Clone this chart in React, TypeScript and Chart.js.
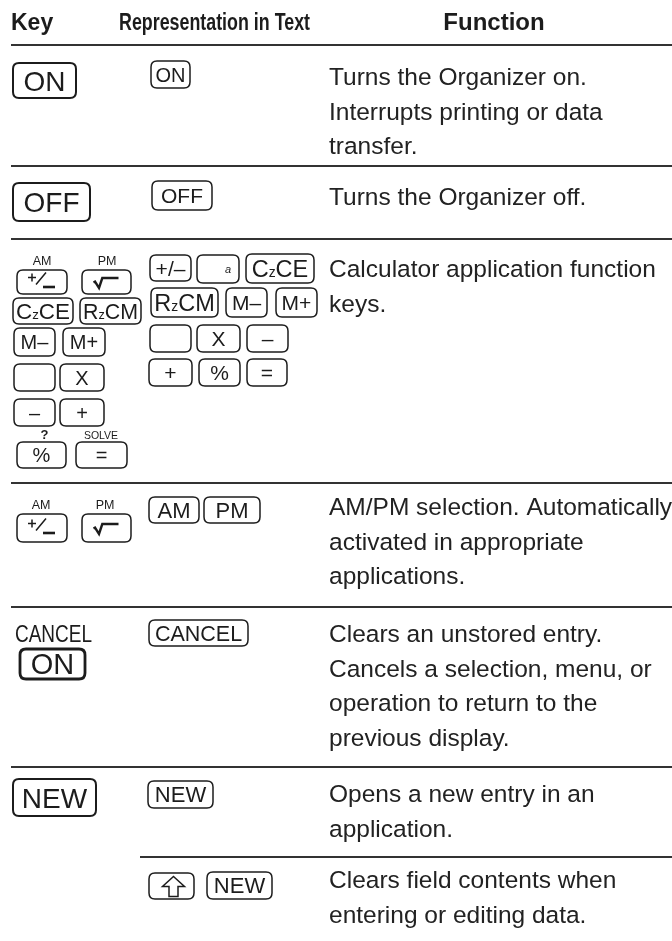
import React, { useEffect, useRef } from "react";
import { Chart, registerables } from "chart.js";

Chart.register(...registerables);

// ---------- content ----------
const HEADERS = ["Key", "Representation in Text", "Function"];

const FUNCTION_LINES: string[][] = [
  ["Turns the Organizer on.", "Interrupts printing or data", "transfer."],
  ["Turns the Organizer off."],
  ["Calculator application function", "keys."],
  ["AM/PM selection. Automatically", "activated in appropriate", "applications."],
  ["Clears an unstored entry.", "Cancels a selection, menu, or", "operation to return to the", "previous display."],
  ["Opens a new entry in an", "application."],
  ["Clears field contents when", "entering or editing data."],
];

// "±" = fraction-style +/− key glyph, "√" = square-root key glyph, "⇧" = shift arrow, {x} = small letter
const KEY_LABELS: string[][] = [
  ["ON"],
  ["OFF"],
  ["±", "√", "C{z}CE", "R{z}CM", "M–", "M+", "", "X", "–", "+", "%", "="],
  ["±", "√"],
  ["ON"],
  ["NEW"],
  [],
];

const KEY_CAPTIONS: string[][] = [[], [], ["AM", "PM", "?", "SOLVE"], ["AM", "PM"], ["CANCEL"], [], []];

const REP_LABELS: string[][] = [
  ["ON"],
  ["OFF"],
  ["+/–", "{a}", "C{z}CE", "R{z}CM", "M–", "M+", "", "X", "–", "+", "%", "="],
  ["AM", "PM"],
  ["CANCEL"],
  ["NEW"],
  ["⇧", "NEW"],
];

// ---------- layout (pixel coordinates of the page) ----------
const PAGE_W = 672;
const PAGE_H = 941;
const RULES_FULL = [45, 166, 239, 483, 607, 767];
const RULE_PARTIAL = 857;
const RULE_LEFT = 11;
const RULE_PARTIAL_LEFT = 140;
const FUNC_X = 329;
const FUNC_BASELINE = [85, 205, 277, 515, 642, 802, 888];
const LINE_GAP = 34.6;

const KEY_BOXES: number[][][] = [
  [[13, 63, 76, 98]],
  [[13, 183, 90, 221]],
  [
    [17, 270, 67, 294], [82, 270, 131, 294],
    [13, 298, 73, 324], [80, 298, 141, 324],
    [14, 328, 55, 356], [63, 328, 105, 356],
    [14, 364, 55, 391], [60, 364, 104, 391],
    [14, 399, 55, 426], [60, 399, 104, 426],
    [17, 442, 66, 468], [76, 442, 127, 468],
  ],
  [[17, 514, 67, 542], [82, 514, 131, 542]],
  [[20, 649, 85, 679]],
  [[13, 779, 96, 816]],
  [],
];
const KEY_FONT = [28, 28, 20, 20, 29, 28, 0];
const KEY_LW = [2, 2, 1.5, 1.5, 2.8, 2, 0];

// caption: [x, baseline, size, align(0 centre / 1 left), bold, maxWidth]
const CAPTION_POS: number[][][] = [
  [], [],
  [[42, 265, 12.5, 0, 0, 0], [107, 265, 12.5, 0, 0, 0], [44.5, 439, 13, 0, 1, 0], [101, 439, 10.5, 0, 0, 0]],
  [[41, 509, 12.5, 0, 0, 0], [105, 509, 12.5, 0, 0, 0]],
  [[15, 642, 23.5, 1, 0, 77]],
  [], [],
];

const REP_BOXES: number[][][] = [
  [[151, 61, 190, 88]],
  [[152, 181, 212, 210]],
  [
    [150, 255, 191, 281], [197, 255, 239, 283], [246, 254, 314, 283],
    [151, 288, 218, 317], [226, 288, 267, 317], [276, 288, 317, 317],
    [150, 325, 191, 352], [197, 325, 240, 352], [247, 325, 288, 352],
    [149, 359, 192, 386], [199, 359, 240, 386], [247, 359, 287, 386],
  ],
  [[149, 497, 199, 523], [204, 497, 260, 523]],
  [[149, 620, 248, 646]],
  [[148, 781, 213, 808]],
  [[149, 873, 194, 899], [207, 872, 272, 899]],
];
const REP_FONT = [20, 21, 21, 22, 21.5, 22, 22];
const REP_LW = 1.5;

const FONT = '"Liberation Sans", Arial, Helvetica, sans-serif';
const INK = "#1c1c1c";
const RULE_COLOR = "#333333";

// ---------- drawing helpers ----------
function parseSegments(label: string) {
  const out: { t: string; small: boolean }[] = [];
  const re = /\{([^}]*)\}|([^{]+)/g;
  let m: RegExpExecArray | null;
  while ((m = re.exec(label))) {
    if (m[1] !== undefined) out.push({ t: m[1], small: true });
    else out.push({ t: m[2], small: false });
  }
  return out;
}

function roundRect(ctx: CanvasRenderingContext2D, x0: number, y0: number, x1: number, y1: number, r: number) {
  ctx.beginPath();
  ctx.moveTo(x0 + r, y0);
  ctx.lineTo(x1 - r, y0);
  ctx.quadraticCurveTo(x1, y0, x1, y0 + r);
  ctx.lineTo(x1, y1 - r);
  ctx.quadraticCurveTo(x1, y1, x1 - r, y1);
  ctx.lineTo(x0 + r, y1);
  ctx.quadraticCurveTo(x0, y1, x0, y1 - r);
  ctx.lineTo(x0, y0 + r);
  ctx.quadraticCurveTo(x0, y0, x0 + r, y0);
  ctx.closePath();
}

function drawKey(
  ctx: CanvasRenderingContext2D,
  label: string,
  x0: number, y0: number, x1: number, y1: number,
  size: number, lw: number
) {
  const cx = (x0 + x1) / 2;
  const cy = (y0 + y1) / 2;
  ctx.save();
  ctx.strokeStyle = INK;
  ctx.fillStyle = INK;
  ctx.lineWidth = lw;
  roundRect(ctx, x0, y0, x1, y1, Math.min(6, (y1 - y0) / 4));
  ctx.stroke();

  if (label === "±") {
    ctx.lineWidth = 1.5;
    ctx.lineCap = "butt";
    ctx.beginPath();
    ctx.moveTo(cx - 14, cy - 4.5); ctx.lineTo(cx - 6, cy - 4.5);
    ctx.moveTo(cx - 10, cy - 8.5); ctx.lineTo(cx - 10, cy - 0.5);
    ctx.moveTo(cx - 6, cy + 2.5); ctx.lineTo(cx + 4, cy - 9.5);
    ctx.stroke();
    ctx.lineWidth = 2.6;
    ctx.beginPath();
    ctx.moveTo(cx + 1, cy + 5); ctx.lineTo(cx + 13, cy + 5);
    ctx.stroke();
  } else if (label === "√") {
    ctx.lineWidth = 2.4;
    ctx.lineJoin = "miter";
    ctx.beginPath();
    ctx.moveTo(cx - 13, cy + 0.5);
    ctx.lineTo(cx - 11.5, cy - 0.3);
    ctx.lineTo(cx - 7.5, cy + 6);
    ctx.lineTo(cx - 4.2, cy - 4);
    ctx.lineTo(cx + 12, cy - 4);
    ctx.stroke();
  } else if (label === "⇧") {
    const ax = cx + 2;
    const ay = cy + 0.5;
    ctx.lineWidth = 1.5;
    ctx.beginPath();
    ctx.moveTo(ax, ay - 10);
    ctx.lineTo(ax + 11, ay);
    ctx.lineTo(ax + 4.5, ay);
    ctx.lineTo(ax + 4.5, ay + 10);
    ctx.lineTo(ax - 4.5, ay + 10);
    ctx.lineTo(ax - 4.5, ay);
    ctx.lineTo(ax - 11, ay);
    ctx.closePath();
    ctx.stroke();
  } else if (label === "{a}") {
    ctx.font = `italic 11px ${FONT}`;
    ctx.textAlign = "center";
    ctx.textBaseline = "alphabetic";
    ctx.fillText("a", x1 - 11, cy + 4);
  } else if (label) {
    const segs = parseSegments(label);
    const hasSmall = segs.some((s) => s.small);
    const big = hasSmall ? size * 1.12 : size;
    const small = size * 0.66;
    let total = 0;
    const widths = segs.map((s) => {
      ctx.font = `${s.small ? small : big}px ${FONT}`;
      const w = ctx.measureText(s.t).width;
      total += w;
      return w;
    });
    const maxW = x1 - x0 - 6;
    const sc = total > maxW ? maxW / total : 1;
    const baseline = cy + (0.716 * big) / 2;
    ctx.translate(cx, baseline);
    ctx.scale(sc, 1);
    ctx.textAlign = "left";
    ctx.textBaseline = "alphabetic";
    let x = -total / 2;
    segs.forEach((s, i) => {
      ctx.font = `${s.small ? small : big}px ${FONT}`;
      ctx.fillText(s.t, x, 0);
      x += widths[i];
    });
  }
  ctx.restore();
}

// ---------- component ----------
export default function App() {
  const canvasRef = useRef<HTMLCanvasElement | null>(null);

  useEffect(() => {
    document.body.style.margin = "0";
    document.body.style.background = "#ffffff";
    const canvas = canvasRef.current;
    if (!canvas) return;

    const ruleDatasets = [
      ...RULES_FULL.map((y) => ({
        data: [{ x: RULE_LEFT, y }, { x: PAGE_W, y }],
      })),
      { data: [{ x: RULE_PARTIAL_LEFT, y: RULE_PARTIAL }, { x: PAGE_W, y: RULE_PARTIAL }] },
    ].map((d) => ({
      ...d,
      showLine: true,
      borderColor: RULE_COLOR,
      borderWidth: 2.2,
      pointRadius: 0,
      pointHoverRadius: 0,
      clip: false as any,
    }));

    const tablePlugin = {
      id: "keyTable",
      afterDatasetsDraw(chart: any) {
        const ctx: CanvasRenderingContext2D = chart.ctx;
        const sx = chart.scales.x;
        const sy = chart.scales.y;
        const X = (v: number) => sx.getPixelForValue(v);
        const Y = (v: number) => sy.getPixelForValue(v);

        ctx.save();
        // headers
        ctx.fillStyle = INK;
        ctx.textBaseline = "alphabetic";
        ctx.font = `bold 23px ${FONT}`;
        ctx.textAlign = "left";
        ctx.fillText(HEADERS[0], X(11), Y(29.5));
        ctx.textAlign = "center";
        ctx.fillText(HEADERS[1], X(214.5), Y(29.5), 191);
        ctx.font = `bold 24px ${FONT}`;
        ctx.fillText(HEADERS[2], X(494), Y(29.5));

        // function text
        ctx.font = `24.5px ${FONT}`;
        ctx.textAlign = "left";
        ctx.fillStyle = "#222222";
        FUNCTION_LINES.forEach((lines, r) => {
          lines.forEach((line, i) => {
            ctx.fillText(line, X(FUNC_X), Y(FUNC_BASELINE[r] + i * LINE_GAP));
          });
        });
        ctx.restore();

        // key column
        KEY_LABELS.forEach((labels, r) => {
          labels.forEach((lab, i) => {
            const b = KEY_BOXES[r][i];
            drawKey(ctx, lab, X(b[0]), Y(b[1]), X(b[2]), Y(b[3]), KEY_FONT[r], KEY_LW[r]);
          });
        });

        // captions above keys
        KEY_CAPTIONS.forEach((caps, r) => {
          caps.forEach((c, i) => {
            const p = CAPTION_POS[r][i];
            ctx.save();
            ctx.fillStyle = INK;
            ctx.font = `${p[4] ? "bold " : ""}${p[2]}px ${FONT}`;
            ctx.textAlign = p[3] ? "left" : "center";
            ctx.textBaseline = "alphabetic";
            if (p[5]) ctx.fillText(c, X(p[0]), Y(p[1]), p[5]);
            else ctx.fillText(c, X(p[0]), Y(p[1]));
            ctx.restore();
          });
        });

        // representation column
        REP_LABELS.forEach((labels, r) => {
          labels.forEach((lab, i) => {
            const b = REP_BOXES[r][i];
            drawKey(ctx, lab, X(b[0]), Y(b[1]), X(b[2]), Y(b[3]), REP_FONT[r], REP_LW);
          });
        });
      },
    };

    const chart = new Chart(canvas, {
      type: "scatter",
      data: { datasets: ruleDatasets as any },
      options: {
        animation: false,
        responsive: false,
        maintainAspectRatio: false,
        devicePixelRatio: 1,
        events: [],
        layout: { padding: 0 },
        plugins: { legend: { display: false }, tooltip: { enabled: false } },
        scales: {
          x: { type: "linear", min: 0, max: PAGE_W, display: false },
          y: { type: "linear", min: 0, max: PAGE_H, reverse: true, display: false },
        },
      },
      plugins: [tablePlugin],
    });

    return () => chart.destroy();
  }, []);

  return (
    <canvas
      ref={canvasRef}
      width={PAGE_W}
      height={PAGE_H}
      style={{ display: "block", width: PAGE_W, height: PAGE_H }}
    />
  );
}
